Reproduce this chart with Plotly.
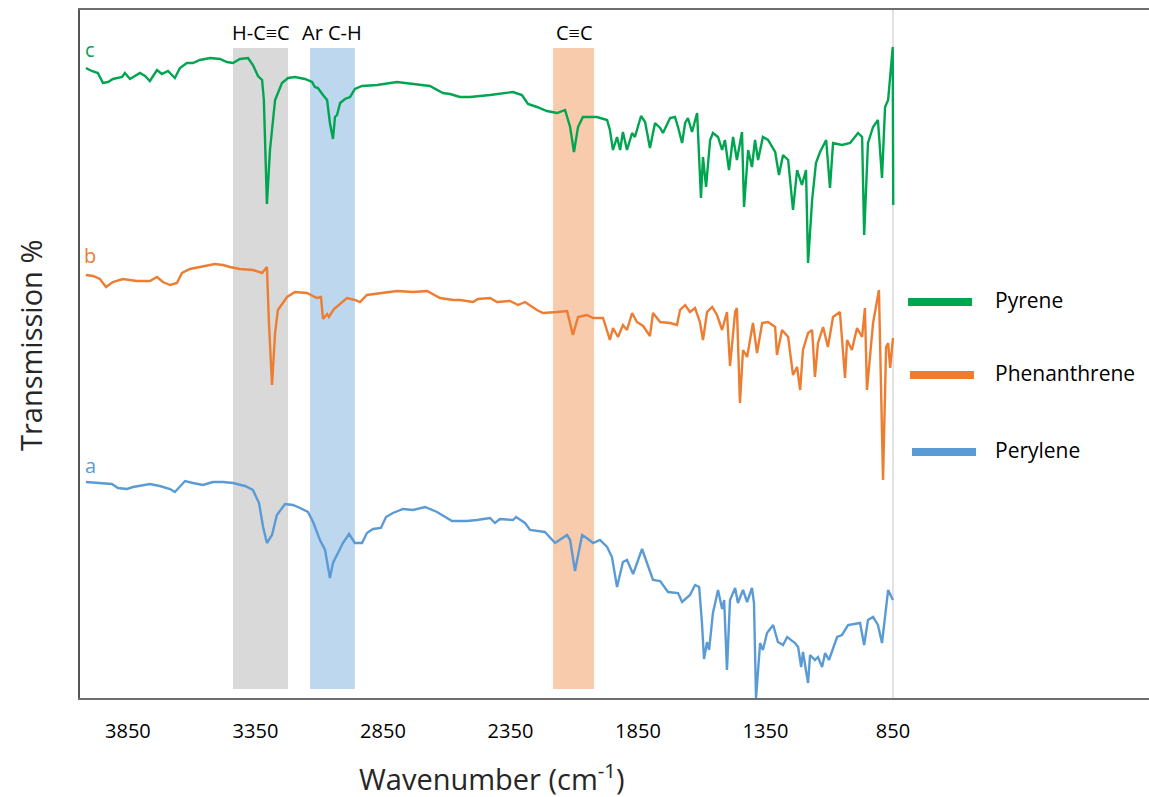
import plotly.graph_objects as go

# FTIR spectra (stacked, arbitrary transmission units)
pyrene_wn = [4015, 3992, 3968, 3948, 3928, 3909, 3873, 3862, 3842, 3803, 3783, 3764, 3736, 3717, 3693,
             3666, 3646, 3619, 3595, 3568, 3528, 3489, 3462, 3438, 3411, 3379, 3360, 3340, 3324, 3317,
             3305, 3293, 3273, 3246, 3222, 3195, 3156, 3128, 3117, 3105, 3085, 3069, 3058, 3046, 3038,
             3030, 3018, 2999, 2979, 2960, 2932, 2873, 2795, 2732, 2666, 2615, 2587, 2548, 2509, 2430,
             2340, 2305, 2281, 2246, 2207, 2167, 2136, 2116, 2101, 2085, 2066, 2011, 1971, 1960, 1948,
             1932, 1920, 1909, 1893, 1873, 1862, 1838, 1822, 1803, 1783, 1763, 1752, 1724, 1705, 1693,
             1677, 1665, 1654, 1638, 1618, 1603, 1595, 1583, 1567, 1556, 1536, 1520, 1509, 1493, 1477,
             1462, 1442, 1434, 1418, 1403, 1391, 1379, 1360, 1340, 1312, 1297, 1281, 1261, 1242, 1226,
             1207, 1191, 1183, 1167, 1152, 1136, 1112, 1097, 1085, 1050, 1018, 987, 971, 963, 948,
             928, 909, 893, 881, 869, 851, 849]
pyrene_t = [630, 627, 625, 615, 616, 619, 621, 625, 619, 625, 622, 617, 628, 624, 627,
            620, 630, 635, 635, 638, 640, 639, 636, 635, 639, 640, 633, 622, 618, 598,
            494, 548, 598, 615, 620, 621, 619, 616, 611, 610, 603, 598, 575, 559, 581,
            583, 595, 599, 601, 609, 612, 613, 616, 614, 612, 605, 604, 601, 601, 603,
            606, 603, 594, 591, 587, 585, 588, 571, 546, 571, 581, 581, 578, 568, 548,
            561, 548, 566, 548, 565, 561, 582, 576, 550, 575, 570, 565, 580, 581, 571,
            555, 575, 580, 566, 585, 500, 541, 511, 558, 565, 561, 548, 558, 528, 561,
            538, 566, 491, 548, 531, 558, 538, 561, 558, 546, 523, 543, 538, 488, 528,
            513, 528, 435, 498, 535, 546, 558, 510, 555, 553, 555, 565, 561, 463, 555,
            571, 578, 520, 591, 598, 651, 493]

phenanthrene_wn = [4015, 3987, 3960, 3936, 3909, 3870, 3815, 3764, 3736, 3713, 3685, 3658, 3638, 3607,
                   3568, 3509, 3477, 3450, 3411, 3360, 3324, 3305, 3297, 3285, 3273, 3262, 3226, 3195,
                   3148, 3109, 3093, 3085, 3069, 3062, 3042, 3011, 2991, 2960, 2940, 2913, 2862, 2795,
                   2732, 2677, 2626, 2575, 2548, 2520, 2497, 2477, 2430, 2403, 2352, 2320, 2293, 2246,
                   2222, 2167, 2128, 2105, 2085, 2050, 2026, 1987, 1960, 1948, 1928, 1909, 1893, 1873,
                   1854, 1830, 1803, 1791, 1763, 1724, 1697, 1685, 1665, 1646, 1626, 1607, 1595, 1579,
                   1559, 1540, 1520, 1501, 1489, 1469, 1462, 1450, 1438, 1422, 1399, 1383, 1363, 1340,
                   1312, 1305, 1285, 1261, 1242, 1226, 1214, 1203, 1183, 1167, 1156, 1144, 1124, 1105,
                   1085, 1058, 1038, 1030, 1011, 991, 971, 960, 952, 928, 905, 889, 877, 869, 861, 850]
phenanthrene_t = [423, 422, 419, 411, 416, 419, 417, 417, 421, 416, 413, 415, 425, 429,
                  431, 434, 433, 431, 429, 428, 425, 431, 375, 313, 365, 388, 401, 406,
                  405, 400, 401, 379, 384, 381, 389, 396, 400, 398, 396, 403, 405, 407,
                  406, 407, 400, 398, 398, 397, 396, 399, 400, 396, 397, 393, 396, 388,
                  385, 386, 387, 363, 381, 383, 380, 380, 358, 370, 361, 373, 368, 385,
                  376, 372, 362, 385, 376, 375, 373, 388, 393, 386, 390, 376, 358, 386,
                  391, 383, 368, 386, 332, 386, 390, 295, 348, 341, 375, 345, 375, 376,
                  371, 343, 368, 361, 323, 331, 308, 348, 365, 368, 321, 355, 371, 351,
                  381, 386, 320, 358, 348, 370, 361, 390, 308, 375, 408, 218, 351, 355, 330, 360]

perylene_wn = [4015, 3960, 3913, 3889, 3854, 3830, 3764, 3725, 3685, 3666, 3626, 3595, 3556, 3517,
               3477, 3438, 3391, 3360, 3336, 3320, 3305, 3285, 3266, 3234, 3203, 3175, 3144, 3124,
               3097, 3077, 3058, 3046, 3026, 3007, 2983, 2960, 2932, 2913, 2889, 2858, 2838, 2811,
               2771, 2732, 2685, 2638, 2579, 2548, 2520, 2481, 2430, 2411, 2391, 2340, 2328, 2293,
               2273, 2215, 2175, 2128, 2116, 2097, 2069, 2046, 2026, 1999, 1971, 1952, 1932, 1909,
               1893, 1869, 1834, 1791, 1763, 1732, 1693, 1677, 1646, 1626, 1610, 1599, 1591, 1579,
               1571, 1556, 1536, 1520, 1512, 1501, 1489, 1469, 1458, 1438, 1422, 1403, 1395, 1387,
               1371, 1360, 1344, 1320, 1301, 1281, 1265, 1234, 1222, 1210, 1203, 1183, 1175, 1156,
               1144, 1128, 1116, 1101, 1069, 1050, 1026, 979, 963, 948, 928, 909, 893, 869, 850]
perylene_t = [216, 215, 214, 210, 209, 211, 214, 212, 209, 206, 217, 215, 213, 216,
              216, 215, 212, 208, 195, 171, 155, 163, 183, 194, 193, 190, 186, 176,
              158, 148, 120, 135, 146, 155, 164, 155, 155, 165, 169, 170, 181, 185,
              189, 188, 191, 186, 177, 177, 177, 178, 180, 175, 179, 178, 181, 175,
              168, 166, 155, 163, 158, 127, 163, 159, 155, 158, 151, 141, 111, 136,
              138, 124, 149, 118, 117, 106, 105, 96, 103, 113, 111, 75, 39, 56,
              48, 85, 108, 89, 98, 28, 98, 110, 95, 108, 96, 110, 95, 0,
              55, 48, 65, 73, 56, 53, 61, 55, 51, 31, 46, 15, 43, 38,
              41, 31, 45, 38, 61, 63, 73, 75, 53, 78, 81, 73, 55, 108, 98]

series_names = ["Pyrene", "Phenanthrene", "Perylene"]
series_tags = ["c", "b", "a"]
series_colors = ["#00A550", "#ED7D31", "#5B9BD5"]

# Highlighted absorption bands (cm-1)
band_labels = ["H-C\u2261C", "Ar C-H", "C\u2261C"]
band_lo = [3222, 2960, 2022]
band_hi = [3438, 3136, 2183]
band_colors = ["#D9D9D9", "#BDD7EE", "#F8CBAD"]

tick_vals = [3850, 3350, 2850, 2350, 1850, 1350, 850]
tick_text = ["3850", "3350", "2850", "2350", "1850", "1350", "850"]

FONT = "Open Sans"
Y_MAX = 688

fig = go.Figure()

# shaded bands and their labels
for lab, lo, hi, col in zip(band_labels, band_lo, band_hi, band_colors):
    fig.add_shape(type="rect", xref="x", yref="y", x0=hi, x1=lo, y0=9, y1=650,
                  fillcolor=col, line_width=0, layer="below")
    fig.add_annotation(x=(lo + hi) / 2, y=666, xref="x", yref="y", text=lab,
                       showarrow=False, yanchor="middle",
                       font=dict(family=FONT, size=20, color="#000000"))

# thin marker at the low-wavenumber end of the scan
fig.add_shape(type="line", xref="x", yref="paper", x0=850, x1=850, y0=0, y1=1,
              line=dict(color="#D9D9D9", width=1.5), layer="below")

for wn, t, name, col in zip([pyrene_wn, phenanthrene_wn, perylene_wn],
                            [pyrene_t, phenanthrene_t, perylene_t],
                            series_names, series_colors):
    fig.add_trace(go.Scatter(x=wn, y=t, mode="lines", name=name, showlegend=False,
                             line=dict(color=col, width=2.4)))

# curve tags a/b/c
tag_y = [649, 443, 233]
for tag, ty, col in zip(series_tags, tag_y, series_colors):
    fig.add_annotation(x=3997, y=ty, xref="x", yref="y", text=tag, showarrow=False,
                       yanchor="middle", font=dict(family=FONT, size=20, color=col))

# legend drawn as thick swatches with labels
leg_y = [0.5756, 0.4695, 0.3576]
leg_x0 = [0.7746, 0.7764, 0.7783]
for name, col, ly, lx in zip(series_names, series_colors, leg_y, leg_x0):
    fig.add_shape(type="line", xref="paper", yref="paper", x0=lx, x1=lx + 0.0599, y0=ly, y1=ly,
                  line=dict(color=col, width=8))
    fig.add_annotation(x=0.854, y=ly + 0.003, xref="paper", yref="paper", text=name,
                       showarrow=False, xanchor="left", yanchor="middle",
                       font=dict(family=FONT, size=21, color="#000000"))

# axis titles
fig.add_annotation(x=0.3845, y=-0.1148, xref="paper", yref="paper",
                   text="Wavenumber (cm<sup>-1</sup>)", showarrow=False,
                   xanchor="center", yanchor="middle",
                   font=dict(family=FONT, size=29, color="#262626"))
fig.add_annotation(x=-0.0468, y=0.513, xref="paper", yref="paper",
                   text="Transmission %", showarrow=False, textangle=-90,
                   xanchor="center", yanchor="middle",
                   font=dict(family=FONT, size=29, color="#262626"))

fig.update_xaxes(range=[4038, -154], tickvals=tick_vals, ticktext=tick_text,
                 showgrid=False, zeroline=False, showline=True, mirror=True,
                 linecolor="#6E6E6E", linewidth=2, ticks="", ticklabelstandoff=14,
                 tickfont=dict(family=FONT, size=20, color="#000000"))
fig.update_yaxes(range=[0, Y_MAX], showticklabels=False, showgrid=False, zeroline=False,
                 showline=True, linecolor="#555555", linewidth=2, ticks="")

fig.update_layout(width=1149, height=797, margin=dict(l=80, r=0, t=10, b=99),
                  paper_bgcolor="white", plot_bgcolor="white", showlegend=False)

fig.write_html("out.html")
